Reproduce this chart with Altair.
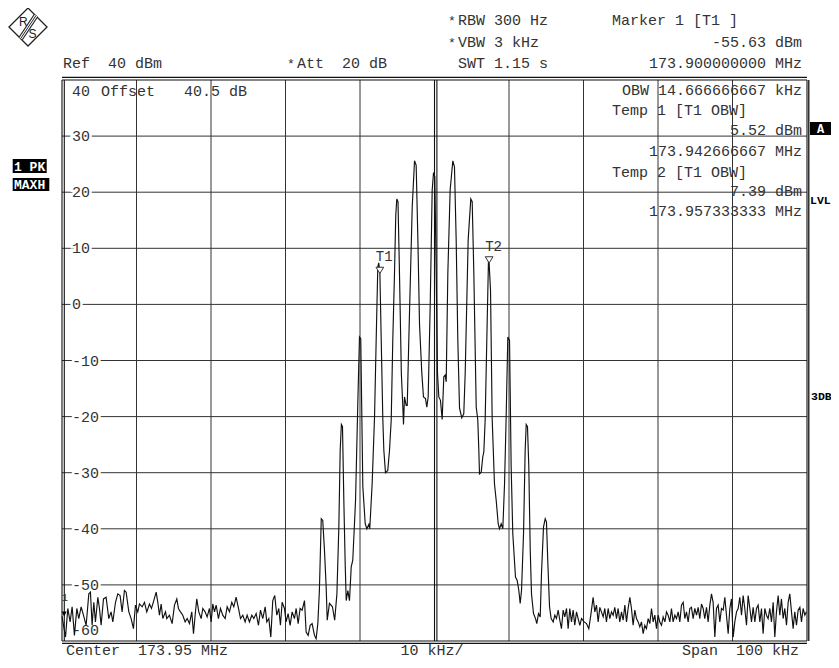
import altair as alt
import pandas as pd

# ---------------- data ----------------
# trace points: (offset from centre frequency in kHz, level in dBm)
trace_left_noise = [
    (-50.0, -55.6), (-49.53, -59.3), (-49.22, -54.2), (-48.91, -56.6), (-48.64, -53.9),
    (-48.33, -59.0), (-48.01, -54.2), (-47.75, -56.0), (-47.43, -53.9), (-47.12, -55.4),
    (-46.76, -57.2), (-46.40, -51.6), (-46.18, -51.3), (-45.96, -57.2), (-45.73, -53.1),
    (-45.51, -56.6), (-45.19, -52.2), (-44.97, -54.2), (-44.75, -57.2), (-44.43, -52.5),
    (-44.08, -52.2), (-43.72, -56.0), (-43.41, -54.8), (-43.18, -56.6), (-42.82, -53.1),
    (-42.51, -51.6), (-42.20, -51.9), (-41.93, -54.8), (-41.62, -51.0), (-41.39, -51.3),
    (-41.03, -54.8), (-40.72, -56.0), (-40.41, -57.8), (-40.14, -53.6), (-39.83, -54.8),
    (-39.60, -53.4), (-39.24, -53.9), (-38.93, -53.1), (-38.62, -54.8), (-38.26, -53.4),
    (-37.99, -54.2), (-37.68, -52.8), (-37.36, -51.3), (-37.14, -53.1), (-36.92, -55.4),
    (-36.69, -53.4), (-36.47, -56.0), (-36.11, -54.8), (-35.93, -56.0), (-35.58, -55.4),
    (-35.22, -56.9), (-34.90, -53.6), (-34.59, -52.5), (-34.37, -54.2), (-34.10, -54.8),
    (-33.79, -55.4), (-33.47, -56.6), (-33.20, -56.0), (-32.89, -56.9), (-32.58, -54.8),
    (-32.35, -58.7), (-32.13, -55.4), (-31.91, -52.5), (-31.64, -54.8), (-31.32, -56.0),
    (-31.10, -54.2), (-30.79, -54.8), (-30.52, -55.7), (-30.21, -54.2), (-29.98, -56.6),
    (-29.76, -53.4), (-29.53, -54.8), (-29.31, -53.6), (-29.00, -56.0), (-28.73, -54.2),
    (-28.42, -55.4), (-28.10, -56.0), (-27.83, -53.9), (-27.52, -54.8), (-27.21, -53.1),
    (-26.94, -53.9), (-26.63, -52.2), (-26.31, -54.2), (-26.04, -56.0), (-25.73, -55.4),
    (-25.42, -56.6), (-25.15, -55.4), (-24.84, -56.6), (-24.52, -55.4), (-24.25, -56.0),
    (-23.94, -55.1), (-23.63, -57.2), (-23.36, -54.5), (-23.05, -56.0), (-22.73, -53.9),
    (-22.51, -56.6), (-22.24, -56.0), (-21.97, -59.3), (-21.71, -52.8), (-21.44, -51.9),
    (-21.17, -55.4), (-20.90, -54.2), (-20.68, -57.2), (-20.45, -53.1), (-20.14, -54.2),
    (-19.92, -56.6), (-19.65, -55.1), (-19.38, -57.2), (-19.11, -54.8), (-18.80, -56.0),
    (-18.57, -54.2), (-18.30, -56.9), (-18.04, -54.2), (-17.77, -54.5), (-17.45, -52.8),
    (-17.23, -58.4), (-16.96, -59.0), (-16.69, -57.2), (-16.43, -56.9), (-16.11, -59.0),
    (-15.89, -59.6), (-15.66, -56.9),
]

trace_signal = [
    (-15.45, -51.0), (-15.2, -38.2), (-15.0, -38.5), (-14.77, -43.8), (-14.54, -50.4),
    (-14.4, -56.3), (-14.1, -53.3), (-13.7, -53.9), (-13.4, -56.3), (-13.1, -51.6),
    (-12.84, -39.7), (-12.66, -26.0), (-12.5, -21.4), (-12.35, -21.8), (-12.17, -34.9),
    (-11.99, -46.2), (-11.85, -52.8), (-11.63, -51.0), (-11.41, -52.8), (-11.18, -46.8),
    (-10.97, -45.6), (-10.6, -35.0), (-10.3, -18.0), (-10.07, -5.8), (-9.9, -6.1),
    (-9.62, -32.5), (-9.3, -39.1), (-9.08, -40.0), (-8.81, -39.2), (-8.69, -40.0),
    (-8.37, -32.0), (-8.05, -20.1), (-7.83, -6.4), (-7.61, 6.7), (-7.48, 7.4),
    (-7.33, 5.5), (-7.15, -6.4), (-6.94, -20.3), (-6.8, -26.0), (-6.58, -30.0),
    (-6.27, -29.6), (-6.04, -26.0), (-5.81, -20.6), (-5.6, -6.4), (-5.37, 5.5),
    (-5.2, 15.9), (-5.06, 18.8), (-4.9, 18.3), (-4.7, 5.5), (-4.45, -12.3),
    (-4.25, -18.3), (-4.16, -21.4), (-4.03, -16.5), (-3.8, -18.0), (-3.66, -18.0),
    (-3.45, -6.4), (-2.99, 17.4), (-2.68, 25.6), (-2.46, 24.8), (-2.23, 11.5),
    (-2.01, -3.6), (-1.7, -12.3), (-1.48, -16.5), (-1.21, -16.8), (-1.03, -18.3),
    (-0.85, -16.5), (-0.58, -0.4), (-0.31, 20.4), (-0.13, 23.5), (0.04, 22.8),
    (0.23, 5.5), (0.4, -12.3), (0.58, -16.5), (0.8, -17.1), (1.03, -20.5),
    (1.25, -12.9), (1.43, -12.6), (1.57, -13.8), (1.79, 5.5), (2.1, 20.4),
    (2.46, 25.6), (2.68, 24.5), (2.91, 11.5), (3.13, -6.4), (3.36, -18.5),
    (3.66, -20.2), (3.93, -19.5), (4.12, -12.3), (4.52, 11.5), (4.87, 18.8),
    (5.06, 18.3), (5.28, 5.5), (5.6, -18.3), (5.81, -20.6), (5.95, -26.0),
    (6.04, -30.2), (6.27, -29.9), (6.48, -27.2), (6.62, -26.3), (6.8, -20.6),
    (7.02, -6.4), (7.25, 8.2), (7.33, 7.4), (7.52, 2.5), (7.74, -20.3),
    (8.05, -32.0), (8.28, -34.9), (8.55, -39.1), (8.72, -40.0), (8.95, -39.1),
    (9.17, -40.0), (9.4, -32.0), (9.62, -20.0), (9.84, -5.8), (10.07, -6.4),
    (10.29, -29.0), (10.51, -40.9), (10.87, -48.6), (11.1, -49.2), (11.32, -51.0),
    (11.5, -53.3), (11.68, -51.0), (11.95, -40.9), (12.17, -26.0), (12.31, -21.4),
    (12.48, -21.8), (12.66, -29.0), (12.85, -43.8), (13.02, -51.6), (13.29, -55.1),
    (13.56, -56.0), (13.73, -56.9), (13.96, -55.1), (14.19, -55.7), (14.36, -48.0),
    (14.63, -39.7), (14.86, -38.2), (15.03, -38.8), (15.2, -45.6), (15.44, -53.9),
    (15.66, -56.0),
]

trace_right_noise = [
    (15.93, -56.6), (16.15, -55.4), (16.37, -56.0), (16.60, -54.5), (16.82, -56.3),
    (17.04, -57.8), (17.27, -54.5), (17.49, -55.7), (17.72, -54.2), (17.94, -57.8),
    (18.16, -54.2), (18.39, -56.6), (18.61, -54.5), (18.83, -57.2), (19.06, -54.8),
    (19.28, -56.0), (19.51, -57.2), (19.73, -56.0), (20.09, -56.6), (20.40, -56.9),
    (20.71, -57.8), (20.98, -55.4), (21.29, -52.2), (21.52, -54.8), (21.74, -53.6),
    (21.97, -56.6), (22.19, -54.0), (22.41, -54.8), (22.64, -55.7), (22.86, -54.2),
    (23.08, -56.6), (23.31, -54.2), (23.53, -56.0), (23.76, -54.8), (23.98, -55.4),
    (24.20, -54.0), (24.43, -56.0), (24.65, -54.2), (24.87, -56.6), (25.10, -54.8),
    (25.32, -56.3), (25.55, -53.6), (25.77, -56.6), (25.99, -54.2), (26.22, -52.2),
    (26.44, -54.2), (26.66, -57.2), (26.89, -54.5), (27.11, -56.0), (27.34, -56.6),
    (27.56, -57.5), (27.78, -56.6), (28.01, -58.7), (28.23, -57.2), (28.45, -57.8),
    (28.68, -56.0), (28.90, -56.9), (29.13, -54.2), (29.35, -56.6), (29.57, -55.4),
    (29.80, -57.8), (30.02, -55.4), (30.24, -56.6), (30.47, -57.2), (30.69, -55.7),
    (30.92, -56.6), (31.14, -54.8), (31.36, -55.4), (31.59, -56.6), (31.81, -54.2),
    (32.03, -56.6), (32.26, -55.4), (32.48, -56.0), (32.71, -54.8), (32.93, -56.6),
    (33.15, -53.6), (33.38, -53.1), (33.60, -56.0), (33.82, -54.8), (34.05, -56.6),
    (34.27, -54.2), (34.49, -54.0), (34.72, -56.0), (34.94, -54.2), (35.17, -55.4),
    (35.39, -54.0), (35.61, -56.0), (35.84, -53.4), (36.06, -54.2), (36.28, -56.0),
    (36.51, -54.0), (36.73, -56.6), (36.96, -53.6), (37.18, -51.6), (37.40, -53.1),
    (37.63, -59.3), (37.85, -54.2), (38.07, -53.6), (38.30, -56.6), (38.52, -54.2),
    (38.75, -54.5), (38.97, -52.2), (39.19, -55.4), (39.42, -58.7), (39.64, -54.2),
    (39.86, -52.5), (40.09, -59.3), (40.31, -56.6), (40.54, -54.8), (40.76, -54.2),
    (40.98, -52.2), (41.21, -55.4), (41.43, -51.9), (41.65, -54.2), (41.88, -57.2),
    (42.10, -51.9), (42.33, -54.2), (42.55, -56.6), (42.77, -54.0), (43.00, -56.6),
    (43.22, -54.2), (43.44, -53.6), (43.67, -56.6), (43.89, -54.2), (44.11, -58.7),
    (44.34, -54.2), (44.56, -55.4), (44.78, -56.0), (45.01, -54.2), (45.23, -56.6),
    (45.46, -53.1), (45.68, -59.3), (45.90, -54.8), (46.13, -51.9), (46.35, -55.4),
    (46.57, -52.5), (46.80, -56.0), (47.02, -54.2), (47.25, -57.2), (47.47, -53.1),
    (47.69, -51.6), (47.92, -54.8), (48.14, -57.8), (48.36, -54.8), (48.59, -57.2),
    (48.81, -54.5), (49.04, -54.0), (49.26, -56.6), (49.48, -54.2), (49.71, -55.4),
    (49.93, -54.8),
]

x_grid_khz = [-40, -30, -20, -10, 10, 20, 30, 40]
y_grid_dbm = [30, 20, 10, 0, -10, -20, -30, -40, -50]
y_tick_labels = ["30", "20", "10", "0", "-10", "-20", "-30", "-40", "-50"]

marker_khz = [-50.0, -7.333333, 7.333333]
marker_dbm = [-55.63, 5.52, 7.39]
marker_names = ["1", "T1", "T2"]

# ---------------- layout ----------------
NB = "\u00a0"
MONO = "Liberation Mono"
TXT = "#333333"
GRID = "#333333"
OX, OY = 62, 80           # page position of the plot origin
W, H = 745, 561

xs = alt.Scale(domain=[-50, 50], nice=False, zero=False)
ys = alt.Scale(domain=[-60, 40], nice=False, zero=False)
X = alt.X("khz:Q", scale=xs, axis=None)
Y = alt.Y("dbm:Q", scale=ys, axis=None)
one = pd.DataFrame({"k": [0]})

TRI = "M-1,-1.6L1,-1.6L0,0Z"
TRI_F = "M-1,-2L1,-2L0,0Z"


def txt(s, px, py, align="left", size=15, color=TXT, bold=False, font=MONO, baseline="alphabetic"):
    return alt.Chart(one).mark_text(
        text=s, align=align, baseline=baseline, fontSize=size, font=font,
        color=color, fontWeight="bold" if bold else "normal",
    ).encode(x=alt.value(px - OX), y=alt.value(py - OY))


def box(x1, x2, y1, y2):
    return alt.Chart(one).mark_rect(color="black").encode(
        x=alt.value(x1 - OX), x2=alt.value(x2 - OX), y=alt.value(y1 - OY), y2=alt.value(y2 - OY))


layers = []

# grid
layers.append(alt.Chart(pd.DataFrame({"khz": x_grid_khz})).mark_rule(color=GRID, strokeWidth=1).encode(x=X))
layers.append(alt.Chart(pd.DataFrame({"dbm": y_grid_dbm})).mark_rule(color=GRID, strokeWidth=1).encode(y=Y))

# frame and centre line (double lines)
vdf = pd.DataFrame({"khz": [-50, 0, 50]})
layers.append(alt.Chart(vdf).mark_rule(color="#111", strokeWidth=1.1).encode(x=X))
layers.append(alt.Chart(pd.DataFrame({"khz": [-50]})).mark_rule(color="#111", strokeWidth=1.1, xOffset=2.3).encode(x=X))
layers.append(alt.Chart(pd.DataFrame({"khz": [0]})).mark_rule(color="#111", strokeWidth=1.1, xOffset=2.4).encode(x=X))
layers.append(alt.Chart(pd.DataFrame({"khz": [50]})).mark_rule(color="#111", strokeWidth=1.3, xOffset=1.8).encode(x=X))
hdf = pd.DataFrame({"dbm": [40, -60]})
layers.append(alt.Chart(hdf).mark_rule(color="#111", strokeWidth=1.1).encode(y=Y))
layers.append(alt.Chart(pd.DataFrame({"dbm": [40]})).mark_rule(color="#111", strokeWidth=1.3, yOffset=-2.6).encode(y=Y))
layers.append(alt.Chart(pd.DataFrame({"dbm": [-60]})).mark_rule(color="#111", strokeWidth=1.3, yOffset=2.4).encode(y=Y))

# y labels with halo breaking the grid lines
ylab = pd.DataFrame({"dbm": y_grid_dbm, "lab": y_tick_labels})
lab_x = alt.value(72 - OX)
layers.append(alt.Chart(ylab).mark_text(align="left", baseline="middle", font=MONO, fontSize=15,
                                        stroke="white", strokeWidth=5, fill="white")
              .encode(x=lab_x, y=Y, text="lab:N"))
layers.append(alt.Chart(ylab).mark_text(align="left", baseline="middle", font=MONO, fontSize=15, color=TXT)
              .encode(x=lab_x, y=Y, text="lab:N"))
layers.append(txt("40", 72, 96))
layers.append(txt("-60", 72, 635))

# trace
trace = pd.DataFrame(trace_left_noise + trace_signal + trace_right_noise, columns=["khz", "dbm"])
trace["i"] = range(len(trace))
layers.append(alt.Chart(trace).mark_line(color="#111", strokeWidth=1.15).encode(x=X, y=Y, order="i:Q"))

# markers
mk = pd.DataFrame({"khz": marker_khz, "dbm": marker_dbm, "name": marker_names})
layers.append(alt.Chart(mk.iloc[[0]]).mark_point(shape=TRI_F, size=25, filled=True, color="black",
                                                 opacity=1, xOffset=2.2).encode(x=X, y=Y))
layers.append(alt.Chart(mk.iloc[[0]]).mark_text(font=MONO, fontSize=11, color=TXT, align="center",
                                                dx=2.7, dy=-15, baseline="alphabetic")
              .encode(x=X, y=Y, text="name:N"))
layers.append(alt.Chart(mk.iloc[[1, 2]]).mark_point(shape=TRI, size=60, filled=True, fill="white",
                                                    stroke="#333", strokeWidth=1, opacity=1)
              .encode(x=X, y=Y))
layers.append(alt.Chart(mk.iloc[[1, 2]]).mark_text(font=MONO, fontSize=14, color=TXT, align="left",
                                                   dx=-4, dy=-12, baseline="alphabetic")
              .encode(x=X, y=Y, text="name:N"))

# ---------- header / annotation texts ----------
layers += [
    txt("*", 448, 25, size=13), txt("RBW" + NB + "300" + NB + "Hz", 458, 25),
    txt("*", 448, 47, size=13), txt("VBW" + NB + "3" + NB + "kHz", 458, 47),
    txt("SWT" + NB + "1.15" + NB + "s", 458, 68),
    txt("Marker" + NB + "1" + NB + "[T1" + NB + "]", 612, 25),
    txt("-55.63" + NB + "dBm", 802, 47, align="right"),
    txt("173.900000000" + NB + "MHz", 802, 68, align="right"),
    txt("Ref" + NB * 2 + "40" + NB + "dBm", 63, 68),
    txt("*", 287, 68, size=13), txt("Att" + NB * 2 + "20" + NB + "dB", 297, 68),
    txt("Offset", 101, 96), txt("40.5" + NB + "dB", 184, 96),
    txt("OBW" + NB + "14.666666667" + NB + "kHz", 802, 95, align="right"),
    txt("Temp" + NB + "1" + NB + "[T1" + NB + "OBW]", 612, 115),
    txt("5.52" + NB + "dBm", 802, 135, align="right"),
    txt("173.942666667" + NB + "MHz", 802, 156, align="right"),
    txt("Temp" + NB + "2" + NB + "[T1" + NB + "OBW]", 612, 177),
    txt("7.39" + NB + "dBm", 802, 196, align="right"),
    txt("173.957333333" + NB + "MHz", 802, 216, align="right"),
    txt("Center" + NB * 2 + "173.95" + NB + "MHz", 66, 655),
    txt("10" + NB + "kHz/", 432, 655, align="center"),
    txt("Span" + NB * 2 + "100" + NB + "kHz", 799, 655, align="right"),
]

# side status boxes
layers += [
    box(12.7, 46.7, 159, 173), txt("1" + NB + "PK", 14, 171, size=13, color="white", bold=True),
    box(12.7, 49.3, 178, 191), txt("MAXH", 14, 188.5, size=13, color="white", bold=True),
    box(810, 831, 122, 135), txt("A", 820.5, 133, size=12, color="white", bold=True, align="center"),
    txt("LVL", 810, 204, size=11.5, color="black", bold=True),
    txt("3DB", 811, 400, size=11.5, color="black", bold=True),
]

# R&S logo
layers.append(alt.Chart(one).mark_point(shape="diamond", size=1444, filled=False, stroke="#222",
                                        strokeWidth=1.3, opacity=1)
              .encode(x=alt.value(28 - OX), y=alt.value(27 - OY)))
for sw, col in [(5, "#222"), (3, "white"), (1, "#222")]:
    layers.append(alt.Chart(one).mark_rule(color=col, strokeWidth=sw).encode(
        x=alt.value(36 - OX), y=alt.value(15.5 - OY), x2=alt.value(20.7 - OX), y2=alt.value(38.5 - OY)))
layers.append(txt("R", 23.3, 22, size=12, font="Liberation Sans", color="#222", align="center", baseline="middle"))
layers.append(txt("S", 32.5, 33.5, size=12, font="Liberation Sans", color="#222", align="center", baseline="middle"))

chart = alt.layer(*layers).properties(
    width=W, height=H,
    padding={"left": 54, "top": 72, "right": 24, "bottom": 19},
    autosize=alt.AutoSizeParams(type="none"),
).configure_view(stroke=None)

chart.save("out.html", embed_options={"renderer": "svg", "actions": False})
